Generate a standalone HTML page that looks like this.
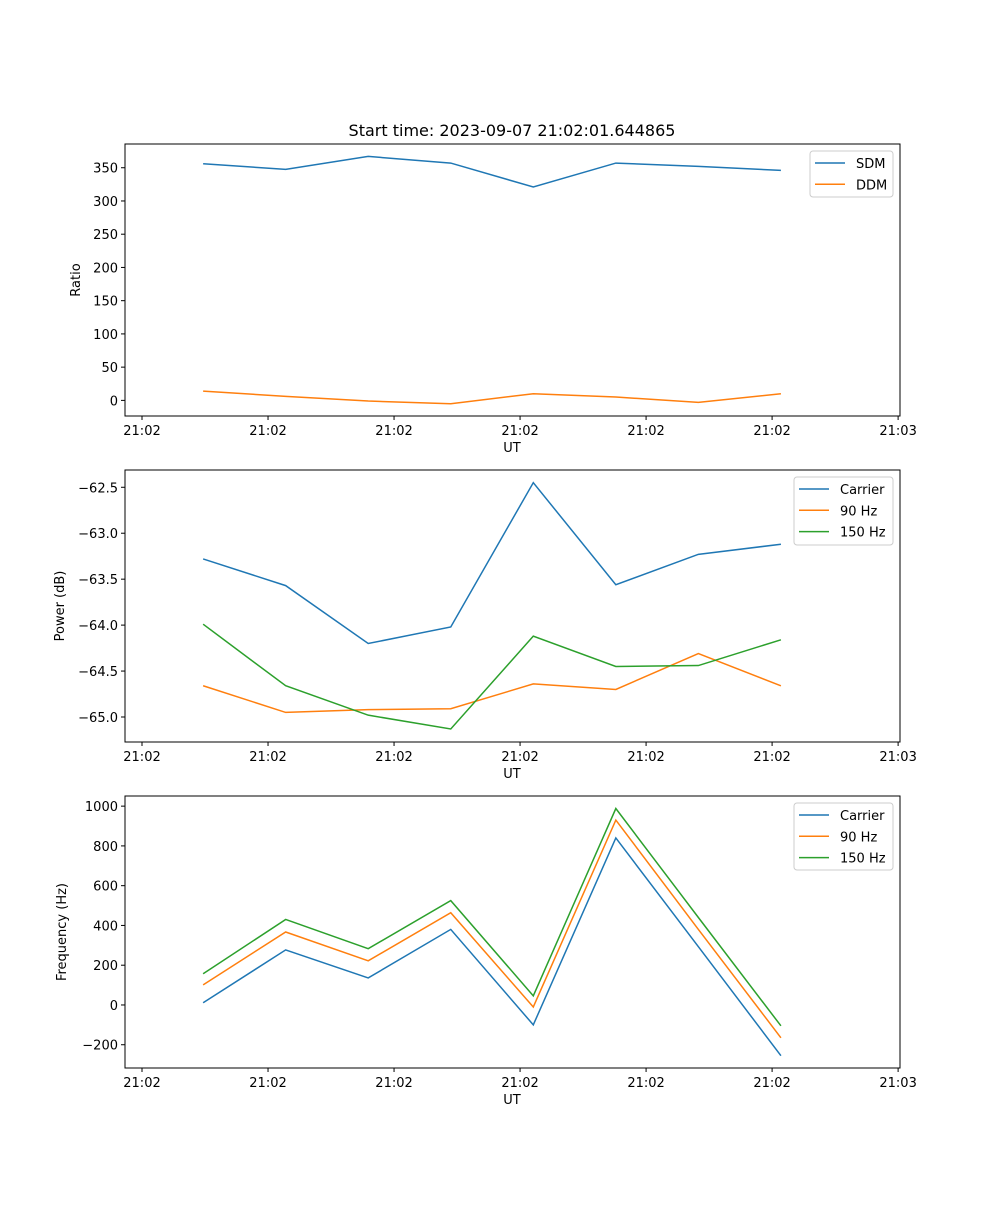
<!DOCTYPE html>
<html><head><meta charset="utf-8"><style>
body{margin:0;background:#fff}
svg text{font-family:"DejaVu Sans","Liberation Sans",sans-serif;fill:#000}
</style></head><body>
<svg id="fig" width="1000" height="1200" xmlns="http://www.w3.org/2000/svg">
<text x="512" y="136" font-size="16" text-anchor="middle">Start time: 2023-09-07 21:02:01.644865</text>
</svg>
<script>
// shared x data (ms after first tick)
const times = [97, 228, 359, 490, 621, 752, 883, 1014];
const xTicks = [0, 200, 400, 600, 800, 1000, 1200];
const xTickLabels = ["21:02","21:02","21:02","21:02","21:02","21:02","21:03"];
// panel 1
const sdm = [356, 347.5, 367, 357, 321, 357, 352, 346];
const ddm = [14, 6, -1, -5, 10, 5, -3, 10];
const ratioTicks = [0, 50, 100, 150, 200, 250, 300, 350];
// panel 2
const powCarrier = [-63.28, -63.57, -64.20, -64.02, -62.45, -63.56, -63.23, -63.12];
const pow90 = [-64.66, -64.95, -64.92, -64.91, -64.64, -64.70, -64.31, -64.66];
const pow150 = [-63.99, -64.66, -64.98, -65.13, -64.12, -64.45, -64.44, -64.16];
const powTicks = [-65.0, -64.5, -64.0, -63.5, -63.0, -62.5];
// panel 3
const freqCarrier = [11, 277, 136, 380, -100, 840, 293, -255];
const freq90 = [101, 367, 222, 464, -10, 930, 380, -165];
const freq150 = [157, 430, 283, 525, 46, 988, 440, -105];
const freqTicks = [-200, 0, 200, 400, 600, 800, 1000];

const NS = "http://www.w3.org/2000/svg";
const svg = document.getElementById('fig');
const C = ['#1f77b4', '#ff7f0e', '#2ca02c'];
const L = 125, R = 900;
const xMin = -27, xMax = 1203;
const xs = v => L + (v - xMin) / (xMax - xMin) * (R - L);
function mk(tag, attrs, parent) {
  const e = document.createElementNS(NS, tag);
  for (const k in attrs) e.setAttribute(k, attrs[k]);
  (parent || svg).appendChild(e);
  return e;
}
function panel(name, top, bottom, yMin, yMax, yTicks, fmt, ylabel, ylabelX, series, names, legendBox) {
  const g = mk('g', {});
  
  
  const ys = v => bottom - (v - yMin) / (yMax - yMin) * (bottom - top);
  series.forEach((s, i) => {
    const p = mk('polyline', {points: s.map((v, j) => xs(times[j]) + ',' + ys(v)).join(' '), fill: 'none', stroke: C[i], 'stroke-width': 1.5}, g);
    
    
  });
  const frame = mk('rect', {x: L, y: top, width: R - L, height: bottom - top, fill: 'none', stroke: '#000', 'stroke-width': 1}, g);
  
  
  xTicks.forEach((t, i) => {
    const x = xs(t);
    mk('line', {x1: x, x2: x, y1: bottom, y2: bottom + 4, stroke: '#000'}, g);
    const tx = mk('text', {x: x, y: bottom + 19, 'font-size': 13, 'text-anchor': 'middle'}, g);
    tx.textContent = xTickLabels[i];
    
    
  });
  const xl = mk('text', {x: 512, y: bottom + 36, 'font-size': 13, 'text-anchor': 'middle'}, g);
  xl.textContent = 'UT';
  
  
  yTicks.forEach(t => {
    const y = ys(t);
    mk('line', {x1: L - 4, x2: L, y1: y, y2: y, stroke: '#000'}, g);
    const tx = mk('text', {x: L - 7, y: y + 5, 'font-size': 13, 'text-anchor': 'end'}, g);
    tx.textContent = fmt(t);
    
    
  });
  const yl = mk('text', {x: ylabelX, y: (top + bottom) / 2, 'font-size': 13, 'text-anchor': 'middle', transform: 'rotate(-90 ' + ylabelX + ' ' + (top + bottom) / 2 + ')'}, g);
  yl.textContent = ylabel;
  
  
  const [bx, by, bw, bh] = legendBox;
  const lg = mk('g', {}, g);
  
  
  mk('rect', {x: bx, y: by, width: bw, height: bh, rx: 3, fill: '#fff', 'fill-opacity': 0.8, stroke: '#ccc'}, lg);
  names.forEach((n, i) => {
    const ey = by + 12 + i * 21.3;
    const e = mk('g', {}, lg);
    
    
    mk('line', {x1: bx + 5, x2: bx + 35, y1: ey, y2: ey, stroke: C[i], 'stroke-width': 1.5}, e);
    const t = mk('text', {x: bx + 46, y: ey + 5, 'font-size': 13}, e);
    t.textContent = n;
  });
}
const minus = s => s.replace('-', '\u2212');
panel('ratio', 144, 416, -23.5, 385.7, ratioTicks, t => minus(String(t)), 'Ratio', 80, [sdm, ddm], ['SDM', 'DDM'], [810, 151, 83, 46]);
panel('power', 470, 742, -65.272, -62.312, powTicks, t => minus(t.toFixed(1)), 'Power (dB)', 64, [powCarrier, pow90, pow150], ['Carrier', '90 Hz', '150 Hz'], [794, 477, 99, 68]);
panel('frequency', 796, 1068, -317, 1051, freqTicks, t => minus(String(t)), 'Frequency (Hz)', 66, [freqCarrier, freq90, freq150], ['Carrier', '90 Hz', '150 Hz'], [794, 803, 99, 67]);
</script>
</body></html>
